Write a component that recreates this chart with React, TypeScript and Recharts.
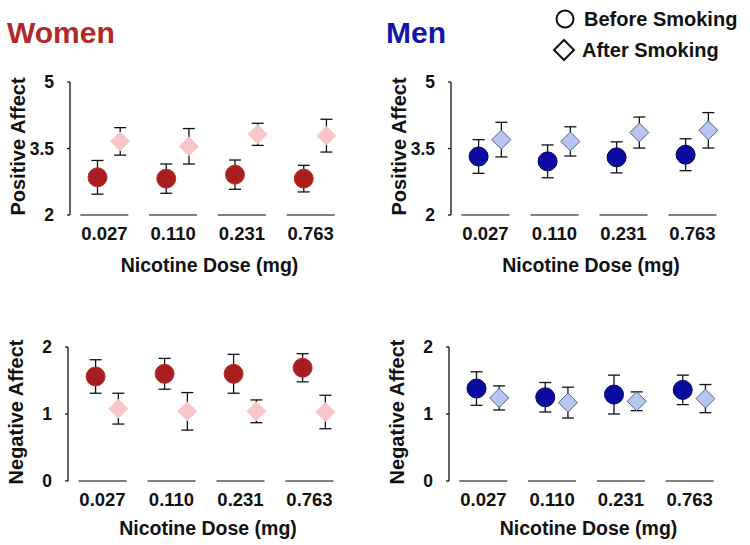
import React from 'react';
import { ScatterChart, Scatter, XAxis, YAxis, ErrorBar, Label } from 'recharts';

const FONT = '"Liberation Sans", Arial, Helvetica, sans-serif';

// ---- data ----
const doses = ['0.027', '0.110', '0.231', '0.763'];

const womenPosBefore = [2.85, 2.82, 2.91, 2.82];
const womenPosBeforeErr = [0.38, 0.33, 0.33, 0.3];
const womenPosAfter = [3.66, 3.55, 3.82, 3.79];
const womenPosAfterErr = [0.31, 0.4, 0.25, 0.37];

const menPosBefore = [3.32, 3.21, 3.3, 3.36];
const menPosBeforeErr = [0.38, 0.37, 0.35, 0.36];
const menPosAfter = [3.7, 3.66, 3.86, 3.91];
const menPosAfterErr = [0.39, 0.33, 0.35, 0.4];

const womenNegBefore = [1.56, 1.6, 1.6, 1.69];
const womenNegBeforeErr = [0.25, 0.23, 0.29, 0.21];
const womenNegAfter = [1.08, 1.04, 1.04, 1.03];
const womenNegAfterErr = [0.23, 0.28, 0.17, 0.25];

const menNegBefore = [1.38, 1.25, 1.29, 1.36];
const menNegBeforeErr = [0.25, 0.22, 0.29, 0.22];
const menNegAfter = [1.24, 1.17, 1.19, 1.23];
const menNegAfterErr = [0.18, 0.23, 0.14, 0.21];

const posTicks = [2, 3.5, 5];
const negTicks = [0, 1, 2];

const rows = (vals: number[], errs: number[]) =>
  vals.map((v, i) => ({ pos: i + 0.5, y: v, err: errs[i] }));

const makeCircle = (fill: string, stroke: string) => (p: any) =>
  <circle cx={p.cx} cy={p.cy} r={9.5} fill={fill} stroke={stroke} strokeWidth={1} />;

const makeDiamond = (fill: string, stroke: string) => (p: any) => {
  const h = 9.5;
  return (
    <polygon
      points={`${p.cx},${p.cy - h} ${p.cx + h},${p.cy} ${p.cx},${p.cy + h} ${p.cx - h},${p.cy}`}
      fill={fill}
      stroke={stroke}
      strokeWidth={1}
    />
  );
};

const Nothing = () => <g />;

const DoseTick = (props: any) => {
  const { x, y, payload } = props;
  const label = doses[Math.floor(payload.value)];
  return (
    <g>
      <line x1={x - 24} x2={x + 24} y1={y} y2={y} stroke="#555" strokeWidth={1.5} />
      <text x={x} y={y + 25} textAnchor="middle" fontSize={18.5} fontWeight="bold" fontFamily={FONT} fill="#111">
        {label}
      </text>
    </g>
  );
};

type PanelProps = {
  left: number;
  top: number;
  height: number;
  margin: { top: number; right: number; left: number; bottom: number };
  yWidth: number;
  xHeight: number;
  xLabelOffset: number;
  domain: [number, number];
  ticks: number[];
  yLabel: string;
  before: any[];
  after: any[];
  beforeShape: any;
  afterShape: any;
};

const Panel = (p: PanelProps) => (
  <div style={{ position: 'absolute', left: p.left, top: p.top }}>
    <ScatterChart width={375} height={p.height} margin={p.margin}>
      <XAxis
        xAxisId="main"
        type="number"
        dataKey="pos"
        domain={[0, 4]}
        allowDataOverflow
        ticks={[0.5, 1.5, 2.5, 3.5]}
        axisLine={false}
        tickLine={false}
        tickSize={0}
        tickMargin={0}
        height={p.xHeight}
        tick={<DoseTick />}
        interval={0}
      >
        <Label
          content={(lp: any) => {
            const vb = lp.viewBox || { x: 0, y: 0, width: 0, height: 0 };
            const cx = vb.x + vb.width / 2 + 2;
            const by = vb.y + vb.height - p.xLabelOffset;
            return (
              <text x={cx} y={by} textAnchor="middle" fontSize={19.5} fontWeight="bold" fontFamily={FONT} fill="#111">
                Nicotine Dose (mg)
              </text>
            );
          }}
        />
      </XAxis>
      <XAxis xAxisId="before" type="number" dataKey="pos" domain={[0.1, 4.1]} allowDataOverflow hide height={0} />
      <XAxis xAxisId="after" type="number" dataKey="pos" domain={[-0.23, 3.77]} allowDataOverflow hide height={0} />
      <YAxis
        type="number"
        dataKey="y"
        domain={p.domain}
        allowDataOverflow
        ticks={p.ticks}
        width={p.yWidth}
        axisLine={{ stroke: '#111', strokeWidth: 1.3 }}
        tickLine={{ stroke: '#111', strokeWidth: 1.3 }}
        tickSize={3}
        tickMargin={13}
        tick={{ fontSize: 17.5, fontWeight: 'bold', fill: '#111', fontFamily: FONT }}
        interval={0}
      >
        <Label
          content={(lp: any) => {
            const vb = lp.viewBox || { x: 0, y: 0, width: 0, height: 0 };
            const cx = vb.x + vb.width - 45;
            const cy = vb.y + vb.height / 2 - 2;
            return (
              <text
                x={cx}
                y={cy}
                transform={`rotate(-90 ${cx} ${cy})`}
                textAnchor="middle"
                fontSize={20}
                fontWeight="bold"
                fontFamily={FONT}
                fill="#111"
              >
                {p.yLabel}
              </text>
            );
          }}
        />
      </YAxis>
      <Scatter xAxisId="before" data={p.before} shape={p.beforeShape} isAnimationActive={false} />
      <Scatter xAxisId="after" data={p.after} shape={p.afterShape} isAnimationActive={false} />
      <Scatter xAxisId="before" data={p.before} shape={Nothing} isAnimationActive={false}>
        <ErrorBar dataKey="err" direction="y" width={6} stroke="#111" strokeWidth={1.3} isAnimationActive={false} />
      </Scatter>
      <Scatter xAxisId="after" data={p.after} shape={Nothing} isAnimationActive={false}>
        <ErrorBar dataKey="err" direction="y" width={6} stroke="#111" strokeWidth={1.3} isAnimationActive={false} />
      </Scatter>
    </ScatterChart>
  </div>
);

const womenCircle = makeCircle('#a81e1e', '#b8302a');
const womenDiamond = makeDiamond('#f8c6c9', '#f8c6c9');
const menCircle = makeCircle('#0a0aa0', '#05055e');
const menDiamond = makeDiamond('#b6c6f2', '#56627e');

export default function App() {
  return (
    <div style={{ position: 'absolute', left: 0, top: 0, width: 750, height: 545, background: '#fff', overflow: 'hidden' }}>
      <svg width={750} height={80} style={{ position: 'absolute', left: 0, top: 0 }}>
        <text x={7} y={43} fontSize={30} fontWeight="bold" fontFamily={FONT} fill="#b0282a">Women</text>
        <text x={386} y={43} fontSize={30} fontWeight="bold" fontFamily={FONT} fill="#1515a8">Men</text>
        <circle cx={565} cy={19} r={8.5} fill="#fff" stroke="#111" strokeWidth={2} />
        <text x={584} y={26} fontSize={20} fontWeight="bold" fontFamily={FONT} fill="#111">Before Smoking</text>
        <polygon points="564,40 574,50 564,60 554,50" fill="#fff" stroke="#111" strokeWidth={2} />
        <text x={582} y={57} fontSize={20} fontWeight="bold" fontFamily={FONT} fill="#111">After Smoking</text>
      </svg>
      <Panel
        left={0}
        top={0}
        height={278}
        margin={{ top: 82, right: 30, left: 0, bottom: 0 }}
        yWidth={70}
        xHeight={63}
        xLabelOffset={6}
        domain={[2, 5]}
        ticks={posTicks}
        yLabel="Positive Affect"
        before={rows(womenPosBefore, womenPosBeforeErr)}
        after={rows(womenPosAfter, womenPosAfterErr)}
        beforeShape={womenCircle}
        afterShape={womenDiamond}
      />
      <Panel
        left={375}
        top={0}
        height={278}
        margin={{ top: 82, right: 23, left: 0, bottom: 0 }}
        yWidth={76}
        xHeight={63}
        xLabelOffset={6}
        domain={[2, 5]}
        ticks={posTicks}
        yLabel="Positive Affect"
        before={rows(menPosBefore, menPosBeforeErr)}
        after={rows(menPosAfter, menPosAfterErr)}
        beforeShape={menCircle}
        afterShape={menDiamond}
      />
      <Panel
        left={0}
        top={270}
        height={275}
        margin={{ top: 77, right: 31, left: 0, bottom: 0 }}
        yWidth={68}
        xHeight={64}
        xLabelOffset={10}
        domain={[0, 2]}
        ticks={negTicks}
        yLabel="Negative Affect"
        before={rows(womenNegBefore, womenNegBeforeErr)}
        after={rows(womenNegAfter, womenNegAfterErr)}
        beforeShape={womenCircle}
        afterShape={womenDiamond}
      />
      <Panel
        left={375}
        top={270}
        height={275}
        margin={{ top: 77, right: 26, left: 0, bottom: 0 }}
        yWidth={74}
        xHeight={64}
        xLabelOffset={10}
        domain={[0, 2]}
        ticks={negTicks}
        yLabel="Negative Affect"
        before={rows(menNegBefore, menNegBeforeErr)}
        after={rows(menNegAfter, menNegAfterErr)}
        beforeShape={menCircle}
        afterShape={menDiamond}
      />
    </div>
  );
}
